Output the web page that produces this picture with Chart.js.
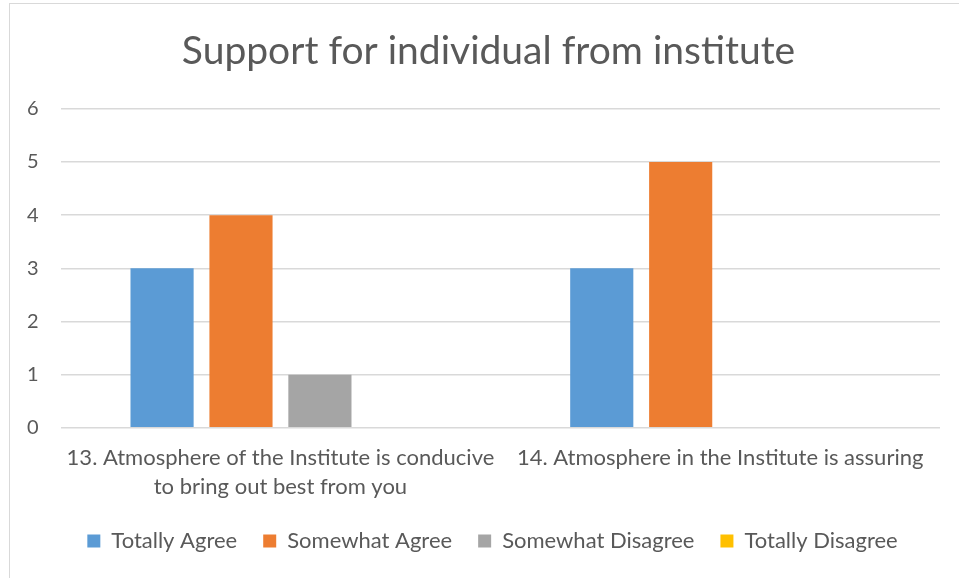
<!DOCTYPE html>
<html>
<head>
<meta charset="utf-8">
<script src="https://cdn.jsdelivr.net/npm/chart.js@4"></script>
<style>
  body { margin: 0; background: #fff; }
  #wrap { position: relative; width: 959px; height: 578px; }
  #frame { position: absolute; left: 9px; top: 3px; width: 960px; height: 590px; border: 1px solid #d9d9d9; box-sizing: border-box; }
</style>
</head>
<body>
<div id="wrap">
  <div id="frame"></div>
  <canvas id="chart"></canvas>
</div>
<script>
const categories = [
  ["13. Atmosphere of the Institute is conducive", "to bring out best from you"],
  ["14. Atmosphere in the Institute is assuring"]
]
const totallyAgree = [3, 3]
const somewhatAgree = [4, 5]
const somewhatDisagree = [1, 0]
const totallyDisagree = [0, 0]
const yTicks = [0, 1, 2, 3, 4, 5, 6]

const textColor = '#595959'
const fontFamily = 'Lato, "Open Sans", sans-serif'

// title and legend sit a bit right of centre in the original (frame starts at x=9)
const nudgeBoxes = {
    id: 'nudgeBoxes',
    afterLayout(chart) {
        if (chart.titleBlock) { chart.titleBlock.left += 16; chart.titleBlock.right += 16 }
        if (chart.legend) {
            chart.legend.left += 20; chart.legend.right += 20
            chart.legend.top -= 5; chart.legend.bottom -= 5
        }
    }
}

const cvs = document.getElementById('chart')
new Chart(cvs, {
    type: 'bar',
    data: {
        labels: categories,
        datasets: [
            { label: 'Totally Agree', data: totallyAgree, backgroundColor: '#5b9bd5' },
            { label: 'Somewhat Agree', data: somewhatAgree, backgroundColor: '#ed7d31' },
            { label: 'Somewhat Disagree', data: somewhatDisagree, backgroundColor: '#a5a5a5' },
            { label: 'Totally Disagree', data: totallyDisagree, backgroundColor: '#ffc000' }
        ]
    },
    plugins: [nudgeBoxes],
    options: {
        responsive: true,
        maintainAspectRatio: false,
        animation: false,
        layout: { padding: { left: 5, right: 19, top: 0, bottom: 11 } },
        datasets: {
            bar: { categoryPercentage: 0.718, barPercentage: 0.8, borderWidth: 0 }
        },
        plugins: {
            title: {
                display: true,
                text: 'Support for individual from institute',
                color: textColor,
                font: { family: fontFamily, size: 39, weight: 'normal' },
                padding: { top: 28, bottom: 34 }
            },
            legend: {
                position: 'bottom',
                labels: {
                    color: textColor,
                    font: { family: fontFamily, size: 22 },
                    boxWidth: 13,
                    boxHeight: 13,
                    padding: 26
                }
            },
            tooltip: { enabled: false }
        },
        scales: {
            x: {
                grid: { display: false },
                border: { display: false },
                ticks: {
                    color: textColor,
                    font: { family: fontFamily, size: 22, lineHeight: 1.3 },
                    maxRotation: 0,
                    autoSkip: false,
                    padding: 8
                }
            },
            y: {
                min: 0,
                max: 6,
                afterBuildTicks: (axis) => { axis.ticks = yTicks.map(v => ({ value: v })) },
                grid: { color: '#d9d9d9', lineWidth: 1.5, drawTicks: false },
                border: { display: false },
                ticks: {
                    color: textColor,
                    font: { family: fontFamily, size: 20 },
                    padding: 22
                }
            }
        }
    }
})
</script>
</body>
</html>
